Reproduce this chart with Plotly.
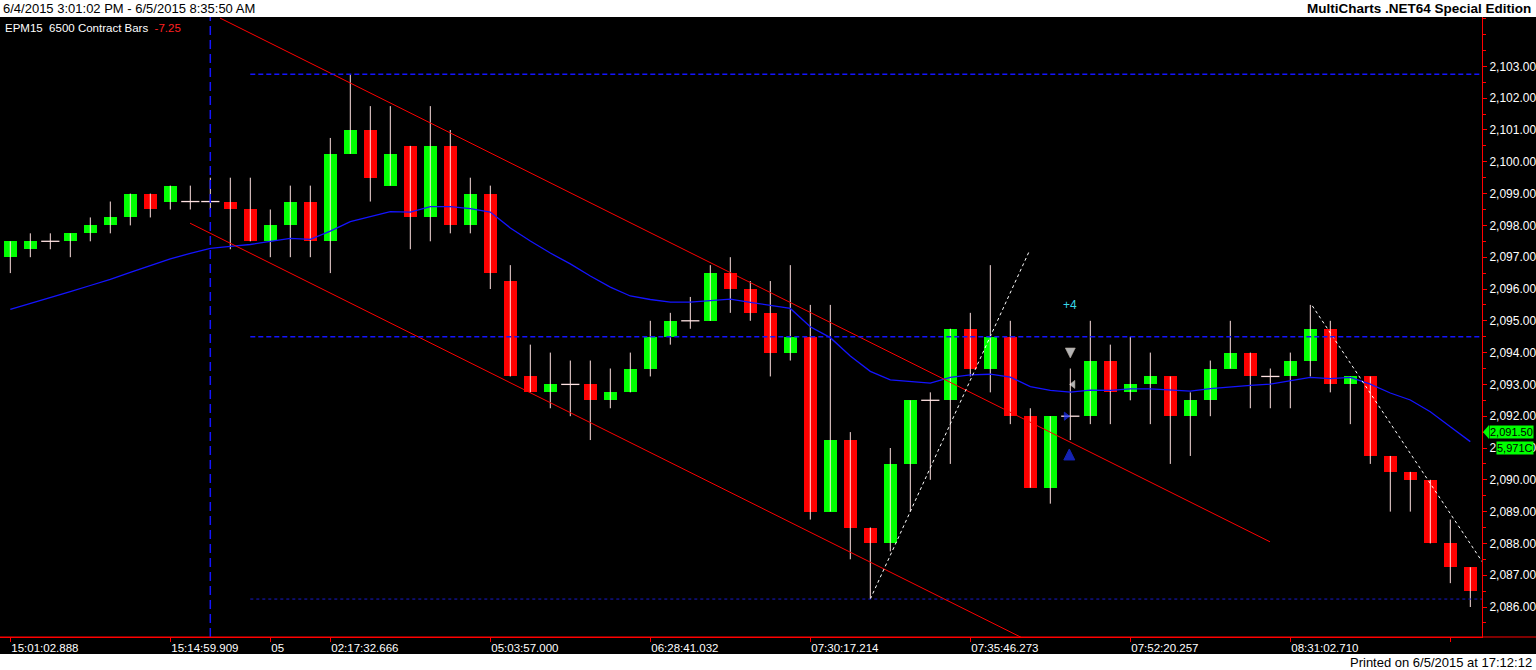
import plotly.graph_objects as go

# EPM15 6500 contract bars, 6/4/2015 15:01 -> 6/5/2015 08:35
opens = [2097.0, 2097.25, 2097.5, 2097.5, 2097.75, 2098.0, 2098.25, 2099.0, 2098.75, 2098.75,
         2098.75, 2098.75, 2098.5, 2097.5, 2098.0, 2098.75, 2097.5, 2100.25, 2101.0, 2099.25,
         2100.5, 2098.25, 2100.5, 2098.0, 2099.0, 2096.25, 2093.25, 2092.75, 2093.0, 2093.0,
         2092.5, 2092.75, 2093.5, 2094.5, 2095.0, 2095.0, 2096.5, 2096.0, 2095.25, 2094.0,
         2094.5, 2089.0, 2091.25, 2088.5, 2088.0, 2090.5, 2092.5, 2092.5, 2094.75, 2093.5,
         2094.5, 2092.0, 2089.75, 2092.0, 2092.0, 2093.75, 2092.75, 2093.0, 2093.25, 2092.0,
         2092.5, 2093.5, 2094.0, 2093.25, 2093.25, 2093.75, 2094.75, 2093.0, 2093.25, 2090.75,
         2090.25, 2090.0, 2088.0, 2087.25]
highs = [2097.5, 2097.75, 2097.75, 2097.75, 2098.25, 2098.75, 2099.0, 2099.0, 2099.25, 2099.25,
         2099.5, 2099.5, 2099.5, 2098.5, 2099.25, 2099.25, 2100.75, 2102.75, 2101.75, 2101.75,
         2100.5, 2101.75, 2101.0, 2099.5, 2099.25, 2096.75, 2094.25, 2094.0, 2093.75, 2093.75,
         2093.5, 2094.0, 2095.0, 2095.25, 2095.75, 2096.75, 2097.0, 2096.25, 2096.25, 2096.75,
         2095.5, 2095.5, 2091.5, 2088.5, 2091.0, 2092.5, 2092.75, 2094.75, 2095.25, 2096.75,
         2095.0, 2092.25, 2092.0, 2093.5, 2095.0, 2094.25, 2094.5, 2094.0, 2093.25, 2092.75,
         2093.75, 2095.0, 2094.0, 2093.5, 2094.0, 2095.5, 2095.0, 2093.25, 2093.25, 2090.75,
         2090.25, 2090.0, 2088.75, 2087.25]
lows = [2096.5, 2097.0, 2097.25, 2097.0, 2097.5, 2097.75, 2098.0, 2098.25, 2098.5, 2098.5,
        2098.5, 2097.25, 2097.5, 2097.0, 2097.0, 2097.0, 2096.5, 2100.25, 2098.75, 2099.25,
        2097.25, 2097.5, 2097.75, 2097.75, 2096.0, 2093.25, 2092.75, 2092.25, 2092.0, 2091.25,
        2092.25, 2092.75, 2093.25, 2094.25, 2094.75, 2095.0, 2095.25, 2095.0, 2093.25, 2093.75,
        2088.75, 2089.0, 2087.5, 2086.25, 2087.75, 2089.0, 2090.0, 2090.5, 2093.25, 2092.75,
        2091.75, 2089.75, 2089.25, 2091.25, 2091.75, 2091.75, 2092.5, 2091.75, 2090.5, 2090.75,
        2092.0, 2093.5, 2092.25, 2092.25, 2092.25, 2093.25, 2092.75, 2091.75, 2090.5, 2089.0,
        2089.0, 2088.0, 2086.75, 2086.0]
closes = [2097.5, 2097.5, 2097.5, 2097.75, 2098.0, 2098.25, 2099.0, 2098.5, 2099.25, 2098.75,
          2098.75, 2098.5, 2097.5, 2098.0, 2098.75, 2097.5, 2100.25, 2101.0, 2099.5, 2100.25,
          2098.25, 2100.5, 2098.0, 2099.0, 2096.5, 2093.25, 2092.75, 2093.0, 2093.0, 2092.5,
          2092.75, 2093.5, 2094.5, 2095.0, 2095.0, 2096.5, 2096.0, 2095.25, 2094.0, 2094.5,
          2089.0, 2091.25, 2088.5, 2088.0, 2090.5, 2092.5, 2092.5, 2094.75, 2093.5, 2094.5,
          2092.0, 2089.75, 2092.0, 2092.0, 2093.75, 2092.75, 2093.0, 2093.25, 2092.0, 2092.5,
          2093.5, 2094.0, 2093.25, 2093.25, 2093.75, 2094.75, 2093.0, 2093.25, 2090.75, 2090.25,
          2090.0, 2088.0, 2087.25, 2086.5]

# moving average (blue)
ma = [2095.36, 2095.54, 2095.73, 2095.92, 2096.11, 2096.30, 2096.52, 2096.74, 2096.95, 2097.12,
      2097.28, 2097.34, 2097.40, 2097.50, 2097.59, 2097.56, 2097.82, 2098.12, 2098.28, 2098.43,
      2098.42, 2098.59, 2098.59, 2098.53, 2098.42, 2097.92, 2097.51, 2097.13, 2096.79, 2096.41,
      2096.06, 2095.78, 2095.67, 2095.59, 2095.59, 2095.63, 2095.68, 2095.58, 2095.48, 2095.39,
      2094.81, 2094.47, 2093.89, 2093.41, 2093.14, 2093.08, 2093.04, 2093.22, 2093.30, 2093.32,
      2093.23, 2092.93, 2092.81, 2092.76, 2092.82, 2092.81, 2092.86, 2092.86, 2092.82, 2092.79,
      2092.87, 2092.93, 2092.97, 2093.01, 2093.11, 2093.22, 2093.18, 2093.22, 2093.01, 2092.73,
      2092.51, 2092.14, 2091.67, 2091.20]

tick_bars = [0, 8, 13, 16, 24, 32, 40, 48, 56, 64, 72]
tick_labels = ["15:01:02.888", "15:14:59.909", "05", "02:17:32.666", "05:03:57.000",
               "06:28:41.032", "07:30:17.214", "07:35:46.273", "07:52:20.257", "08:31:02.710", ""]
price_ticks = list(range(2086, 2104))

# drawings: (bar, price) pairs
upper_channel = [(10.485, 2104.52), (62.985, 2088.05)]
lower_channel = [(8.985, 2098.07), (52.0, 2084.59)]
up_dotted = [(43, 2086.25), (50.935, 2097.17)]
down_dotted = [(65.1, 2095.47), (73.6, 2087.42)]
hlines = [2102.75, 2094.5]
low_hline = 2086.25
hline_start = 12
vline_bar = 10

bars = list(range(len(closes)))
GREEN, RED, WICK = "#00FF00", "#FF0000", "#FFE2E2"
FONT = "Liberation Sans, Arial, sans-serif"

# pixel helpers for the margins (plot area is x 0-1482, y 17-637)
def fx(px):
    return px / 1482

def fy(py):
    return (637 - py) / 620

fig = go.Figure()

# wicks
wx, wy = [], []
for i in bars:
    wx += [i, i, None]
    wy += [lows[i], highs[i], None]
fig.add_trace(go.Scatter(x=wx, y=wy, mode="lines", line=dict(color=WICK, width=1), hoverinfo="skip"))

# bodies
fig.add_trace(go.Bar(
    x=bars, base=[min(o, c) for o, c in zip(opens, closes)],
    y=[abs(c - o) for o, c in zip(opens, closes)],
    marker=dict(color=[GREEN if c > o else RED for o, c in zip(opens, closes)], line_width=0),
    width=0.635))

# doji crosses
doji = [i for i in bars if opens[i] == closes[i]]
fig.add_trace(go.Scatter(x=doji, y=[closes[i] for i in doji], mode="markers",
                         marker=dict(symbol="line-ew", size=13, line=dict(color=WICK, width=1.3))))

# moving average
fig.add_trace(go.Scatter(x=bars, y=ma, mode="lines", line=dict(color="#1414FF", width=1.3)))

# trend lines
for pts, col, dash in [(upper_channel, RED, "solid"), (lower_channel, RED, "solid"),
                       (up_dotted, "white", "dot"), (down_dotted, "white", "dot")]:
    fig.add_trace(go.Scatter(x=[p[0] for p in pts], y=[p[1] for p in pts], mode="lines",
                             line=dict(color=col, width=1, dash=dash)))

# trade markers around bar 53
fig.add_trace(go.Scatter(x=[53, 53.14], y=[2093.83, 2093.0], mode="markers",
                         marker=dict(symbol=["arrow-down", "triangle-left"], size=[10, 7],
                                     color="white", line=dict(color="#FFF0E0", width=0.6))))
fig.add_trace(go.Scatter(x=[52.79, 52.95], y=[2092.0, 2090.97], mode="markers",
                         marker=dict(symbol=["triangle-right", "arrow-up"], size=[7, 11],
                                     color="#1E32FF", line=dict(color="#1E32FF", width=1))))

shapes = []
shapes.append(dict(type="line", xref="x", yref="paper", x0=vline_bar, x1=vline_bar, y0=0, y1=1,
                   line=dict(color="#1414FF", width=1.5, dash="9px,5px")))
for h in hlines:
    shapes.append(dict(type="line", xref="x", yref="y", x0=hline_start, x1=73.6, y0=h, y1=h,
                       line=dict(color="#1414FF", width=1.5, dash="5px,3px")))
shapes.append(dict(type="line", xref="x", yref="y", x0=hline_start, x1=73.6, y0=low_hline, y1=low_hline,
                   line=dict(color="#1818C8", width=1, dash="3px,3px")))
# white title strips and red axis extension
shapes.append(dict(type="rect", xref="paper", yref="paper", x0=0, x1=fx(1536), y0=1, y1=fy(0),
                   fillcolor="white", line_width=0))
shapes.append(dict(type="rect", xref="paper", yref="paper", x0=0, x1=fx(1536), y0=fy(670), y1=fy(654),
                   fillcolor="white", line_width=0))
shapes.append(dict(type="line", xref="paper", yref="paper", x0=0, x1=fx(1536), y0=0, y1=0,
                   line=dict(color=RED, width=1)))
# price marker pointer
shapes.append(dict(type="path", xref="paper", yref="y",
                   path=f"M {fx(1483)} 2091.5 L {fx(1489)} 2091.72 L {fx(1489)} 2091.28 Z",
                   fillcolor=GREEN, line_width=0))

annotations = [
    dict(text="6/4/2015 3:01:02 PM - 6/5/2015 8:35:50 AM", xref="paper", yref="paper",
         x=fx(1), y=fy(8.5), xanchor="left", yanchor="middle", showarrow=False,
         font=dict(family=FONT, size=13, color="black")),
    dict(text="<b>MultiCharts .NET64 Special Edition</b>", xref="paper", yref="paper",
         x=fx(1533), y=fy(8.5), xanchor="right", yanchor="middle", showarrow=False,
         font=dict(family=FONT, size=13.5, color="black")),
    dict(text="Printed on 6/5/2015 at 17:12:12", xref="paper", yref="paper",
         x=fx(1534), y=fy(662), xanchor="right", yanchor="middle", showarrow=False,
         font=dict(family=FONT, size=13, color="black")),
    dict(text="EPM15\u00a0\u00a06500 Contract Bars\u00a0\u00a0<span style='color:#FF2020'>-7.25</span>",
         xref="paper", yref="paper", x=fx(3), y=fy(28), xanchor="left", yanchor="middle",
         showarrow=False, font=dict(family=FONT, size=11.5, color="white")),
    dict(text="+4", xref="x", yref="y", x=53, y=2095.5, showarrow=False,
         font=dict(family=FONT, size=12, color="#38D8E8")),
    dict(text="2,091.50", xref="paper", yref="y", x=fx(1489), y=2091.5, xanchor="left",
         yanchor="middle", showarrow=False, bgcolor=GREEN, borderpad=0,
         font=dict(family=FONT, size=11, color="black")),
    dict(text="5,971C", xref="paper", yref="y", x=fx(1496), y=2091.0, xanchor="left",
         yanchor="middle", showarrow=False, bgcolor=GREEN, borderpad=0,
         font=dict(family=FONT, size=11, color="black")),
]

fig.update_layout(
    width=1536, height=670,
    margin=dict(l=0, r=54, t=17, b=33),
    paper_bgcolor="black", plot_bgcolor="black",
    showlegend=False, bargap=0,
    shapes=shapes, annotations=annotations,
    xaxis=dict(range=[-0.515, 73.585], showgrid=False, zeroline=False,
               tickmode="array", tickvals=tick_bars, ticktext=tick_labels,
               ticks="outside", ticklen=4, tickcolor=RED, ticklabelposition="outside right",
               tickfont=dict(family=FONT, size=11.5, color="white"),
               showline=True, linecolor=RED, linewidth=1),
    yaxis=dict(range=[2085.057, 2104.553], side="right", showgrid=False, zeroline=False,
               tickmode="array", tickvals=price_ticks, tickformat=",.2f",
               ticks="outside", ticklen=4, tickcolor=RED,
               minor=dict(dtick=0.5, tick0=2086, ticks="outside", ticklen=3, tickcolor=RED),
               tickfont=dict(family=FONT, size=12, color="white"),
               showline=True, linecolor=RED, linewidth=1),
)

# drop the browser's default page margin so the figure sits at the top-left corner
fig.write_html("out.html", config={"displayModeBar": False},
               post_script="document.body.style.margin='0';")
